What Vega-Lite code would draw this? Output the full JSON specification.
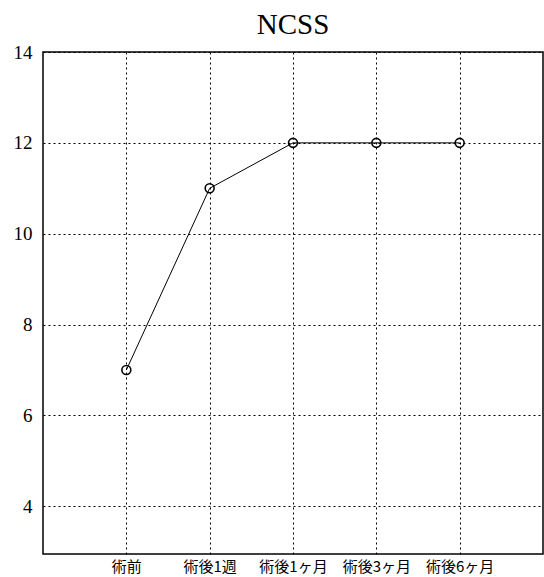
{
  "$schema": "https://vega.github.io/schema/vega-lite/v6.json",
  "autosize": "none",
  "padding": {"left": 43, "top": 52, "right": 1, "bottom": 23},
  "width": 500,
  "height": 502,
  "background": "white",
  "title": {"text": "NCSS", "font": "Liberation Serif", "fontSize": 29, "fontWeight": "normal", "color": "black", "offset": 3, "anchor": "middle"},
  "data": {"values": [
    {"time": "術前", "score": 7},
    {"time": "術後1週", "score": 11},
    {"time": "術後1ヶ月", "score": 12},
    {"time": "術後3ヶ月", "score": 12},
    {"time": "術後6ヶ月", "score": 12}
  ]},
  "layer": [
    {"mark": {"type": "line", "color": "black", "strokeWidth": 1}},
    {"mark": {"type": "point", "shape": "circle", "filled": false, "color": "black", "strokeWidth": 1.6, "size": 80, "opacity": 1}}
  ],
  "encoding": {
    "x": {"field": "time", "type": "ordinal", "sort": null,
      "scale": {"type": "point", "padding": 1},
      "axis": {"title": null, "labelAngle": 0, "ticks": false, "domain": false, "grid": true,
        "gridColor": "black", "gridDash": [2, 3], "gridWidth": 1, "gridOpacity": 1,
        "labelFont": "Noto Sans CJK JP", "labelFontSize": 15, "labelColor": "black", "labelPadding": 5}},
    "y": {"field": "score", "type": "quantitative",
      "scale": {"domain": [2.95, 14], "nice": false, "zero": false},
      "axis": {"title": null, "values": [4, 6, 8, 10, 12, 14], "ticks": false, "domain": false, "grid": true,
        "gridColor": "black", "gridDash": [2, 3], "gridWidth": 1, "gridOpacity": 1,
        "labelFont": "Liberation Serif", "labelFontSize": 19, "labelColor": "black", "labelPadding": 11}}
  },
  "config": {"view": {"stroke": "black", "strokeWidth": 1.5}}
}
